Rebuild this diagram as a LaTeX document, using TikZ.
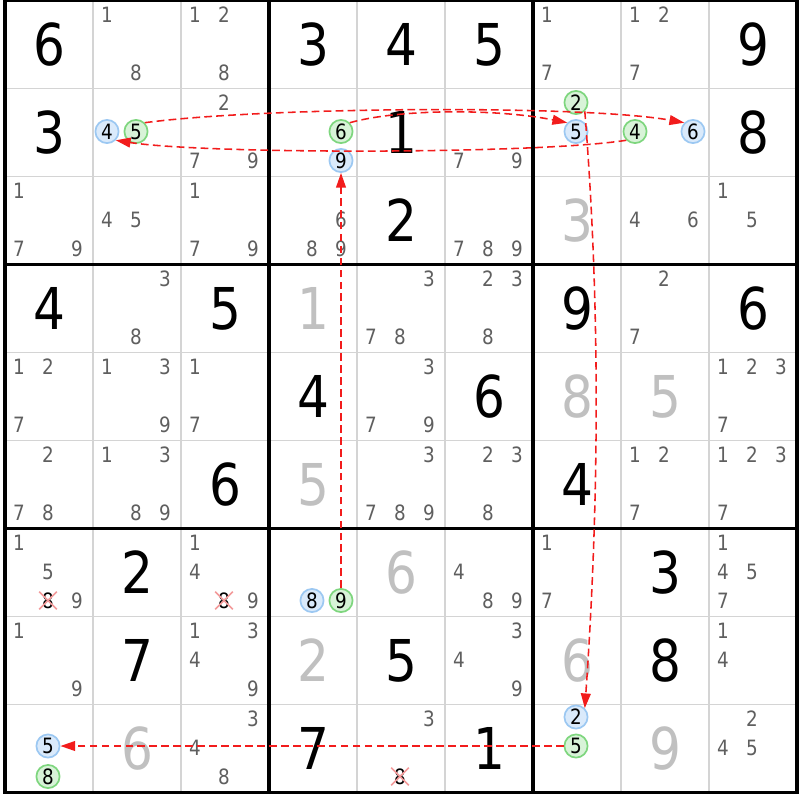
\documentclass[tikz,border=0pt]{standalone}
\usepackage{fontspec}
\setmainfont{DejaVu Sans}[FakeStretch=0.87]
\usepackage{tikz}
\usetikzlibrary{arrows.meta,shapes.misc}
\definecolor{cand_grey}{HTML}{5F5F5F}
\definecolor{solved_grey}{HTML}{C0C0C0}
\definecolor{grid_grey}{HTML}{D4D4D4}
\definecolor{link_red}{HTML}{F21C1C}
\definecolor{blue_fill}{HTML}{DAEAFB}
\definecolor{blue_line}{HTML}{9CC8F2}
\definecolor{green_fill}{HTML}{D8F3D8}
\definecolor{green_line}{HTML}{7ED67E}
\definecolor{cross_red}{HTML}{F39A9A}
\tikzset{
  thin_line/.style={grid_grey, line width=1pt},
  thick_line/.style={black, line width=2.2pt},
  given/.style={font=\fontsize{41}{41}\selectfont, text=black, inner sep=0pt},
  solved/.style={given, text=solved_grey},
  cand/.style={font=\fontsize{15}{15}\selectfont, text=cand_grey, inner sep=0pt},
  blue_cand/.style={cand, text=black, circle, draw=blue_line, fill=blue_fill, line width=1.2pt, minimum size=16.5pt},
  green_cand/.style={cand, text=black, circle, draw=green_line, fill=green_fill, line width=1.2pt, minimum size=16.5pt},
  crossed/.style={cand, text=black, cross out, draw=cross_red, line width=1.1pt, minimum size=11.4pt},
  link/.style={draw=link_red, dash pattern=on 5.5pt off 3pt, line width=1.1pt, -{Triangle[length=10.5pt,width=7pt]}}
}
\begin{document}
\begin{tikzpicture}[x=0.025cm, y=-0.025cm]
        \useasboundingbox (0,0) rectangle (800,800);
        \fill[white] (0,0) rectangle (800,800);
        % Grille
        \foreach \i in {1,2,4,5,7,8} {
          \draw[thin_line] ({5+88*\i},0.5) -- ({5+88*\i},792.5);
          \draw[thin_line] (5,{0.5+88*\i}) -- (797,{0.5+88*\i});
        }
        \foreach \i in {3,6} {
          \draw[thick_line] ({5+88*\i},0.5) -- ({5+88*\i},792.5);
          \draw[thick_line] (5,{0.5+88*\i}) -- (797,{0.5+88*\i});
        }
        \draw[thick_line] (5,0.5) rectangle (797,792.5);
        % Chiffres donnés
        \foreach \rr/\cc/\dd in {1/1/6, 1/4/3, 1/5/4, 1/6/5, 1/9/9, 2/1/3, 2/5/1, 2/9/8, 3/5/2,
            4/1/4, 4/3/5, 4/7/9, 4/9/6, 5/4/4, 5/6/6, 6/3/6, 6/7/4, 7/2/2, 7/8/3,
            8/2/7, 8/5/5, 8/8/8, 9/4/7, 9/6/1}
          \node[given] (g\rr\cc) at ({49+88*(\cc-1)},{44.5+88*(\rr-1)}) {\dd};
        % Chiffres trouvés
        \foreach \rr/\cc/\dd in {3/7/3, 4/4/1, 5/7/8, 5/8/5, 6/4/5, 7/5/6, 8/4/2, 8/7/6, 9/2/6, 9/8/9}
          \node[solved] (s\rr\cc) at ({49+88*(\cc-1)},{44.5+88*(\rr-1)}) {\dd};
        % Candidats
        \foreach \rr/\cc/\dd in {
            1/2/1, 1/2/8, 1/3/1, 1/3/2, 1/3/8, 1/7/1, 1/7/7, 1/8/1, 1/8/2, 1/8/7,
            2/3/2, 2/3/7, 2/3/9, 2/6/7, 2/6/9,
            3/1/1, 3/1/7, 3/1/9, 3/2/4, 3/2/5, 3/3/1, 3/3/7, 3/3/9, 3/4/6, 3/4/8, 3/4/9,
            3/6/7, 3/6/8, 3/6/9, 3/8/4, 3/8/6, 3/9/1, 3/9/5,
            4/2/3, 4/2/8, 4/5/3, 4/5/7, 4/5/8, 4/6/2, 4/6/3, 4/6/8, 4/8/2, 4/8/7,
            5/1/1, 5/1/2, 5/1/7, 5/2/1, 5/2/3, 5/2/9, 5/3/1, 5/3/7, 5/5/3, 5/5/7, 5/5/9,
            5/9/1, 5/9/2, 5/9/3, 5/9/7,
            6/1/2, 6/1/7, 6/1/8, 6/2/1, 6/2/3, 6/2/8, 6/2/9, 6/5/3, 6/5/7, 6/5/8, 6/5/9,
            6/6/2, 6/6/3, 6/6/8, 6/8/1, 6/8/2, 6/8/7, 6/9/1, 6/9/2, 6/9/3, 6/9/7,
            7/1/1, 7/1/5, 7/1/9, 7/3/1, 7/3/4, 7/3/9, 7/6/4, 7/6/8, 7/6/9, 7/7/1, 7/7/7,
            7/9/1, 7/9/4, 7/9/5, 7/9/7,
            8/1/1, 8/1/9, 8/3/1, 8/3/3, 8/3/4, 8/3/9, 8/6/3, 8/6/4, 8/6/9, 8/9/1, 8/9/4,
            9/3/3, 9/3/4, 9/3/8, 9/5/3, 9/9/2, 9/9/4, 9/9/5}
          \node[cand] (c\rr\cc\dd) at ({19+88*(\cc-1)+29*mod(\dd-1,3)},{14.5+88*(\rr-1)+29*floor((\dd-1)/3)}) {\dd};
        % Candidats éliminés
        \node[crossed] (x718) at (48,600.5) {8};
        \node[crossed] (x738) at (224,600.5) {8};
        \node[crossed] (x958) at (400,776.5) {8};
        % Candidats marqués
        \node[blue_cand] (r2c2n4) at (107,131.5) {4};
        \node[green_cand] (r2c2n5) at (136,131.5) {5};
        \node[green_cand] (r2c4n6) at (341,131.5) {6};
        \node[blue_cand] (r2c4n9) at (341,160.5) {9};
        \node[green_cand] (r2c7n2) at (576,102.5) {2};
        \node[blue_cand] (r2c7n5) at (576,131.5) {5};
        \node[green_cand] (r2c8n4) at (635,131.5) {4};
        \node[blue_cand] (r2c8n6) at (693,131.5) {6};
        \node[blue_cand] (r7c4n8) at (312,600.5) {8};
        \node[green_cand] (r7c4n9) at (341,600.5) {9};
        \node[blue_cand] (r9c1n5) at (48,746) {5};
        \node[green_cand] (r9c1n8) at (48,776.5) {8};
        \node[blue_cand] (r9c7n2) at (576,717) {2};
        \node[green_cand] (r9c7n5) at (576,746) {5};
        % Chaîne
        \draw[link] (r7c4n9) -- (r2c4n9);
        \draw[link] (r2c4n6.north east) .. controls +(50,-14) and +(-70,-14) .. (r2c7n5.north west);
        \draw[link] (r2c2n5.north east) .. controls +(120,-16) and +(-100,-18) .. (r2c8n6.north west);
        \draw[link] (r2c8n4.south west) .. controls +(-90,14) and +(90,14) .. (r2c2n4.south east);
        \draw[link] (r2c7n2.south east) .. controls +(16,200) and +(14,-200) .. (r9c7n2.north east);
        \draw[link] (r9c7n5) -- (r9c1n5);
    \end{tikzpicture}
\end{document}
